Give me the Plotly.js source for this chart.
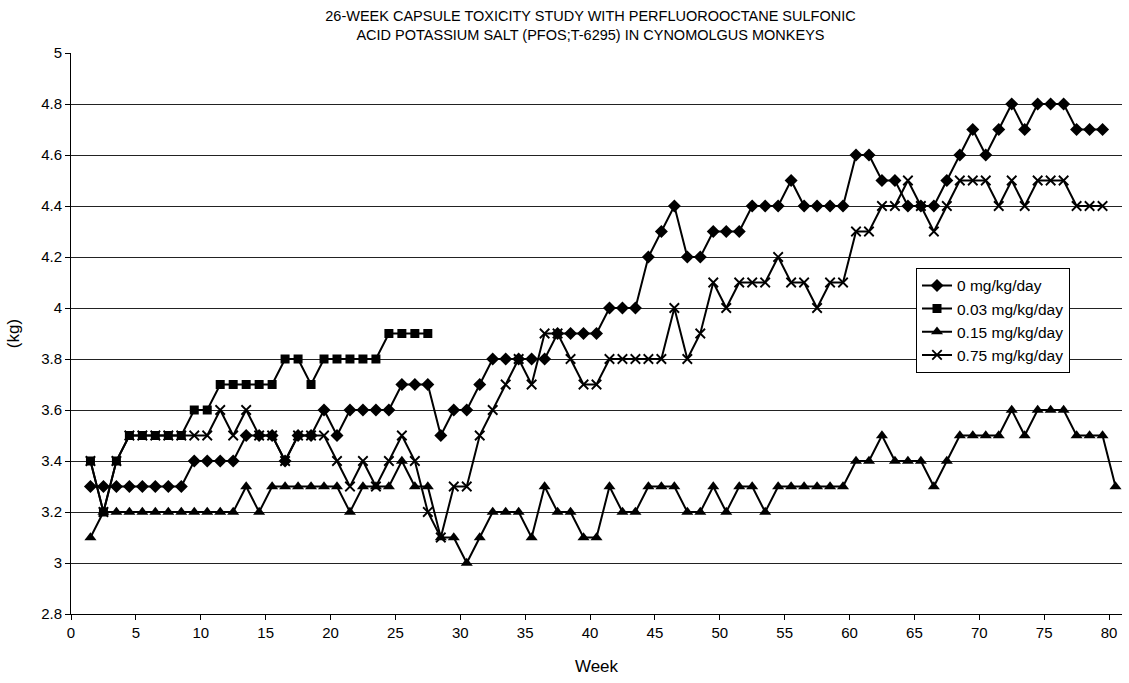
<!DOCTYPE html>
<html>
<head>
<meta charset="utf-8">
<script src="https://cdn.plot.ly/plotly-3.0.1.min.js"></script>
<style>
  html, body { margin: 0; padding: 0; background: #ffffff; }
  #chart { width: 1129px; height: 683px; }
</style>
</head>
<body>
<div id="chart"></div>
<script>
// ---- data ----
const weeks = [1,2,3,4,5,6,7,8,9,10,11,12,13,14,15,16,17,18,19,20,
  21,22,23,24,25,26,27,28,29,30,31,32,33,34,35,36,37,38,39,40,
  41,42,43,44,45,46,47,48,49,50,51,52,53,54,55,56,57,58,59,60,
  61,62,63,64,65,66,67,68,69,70,71,72,73,74,75,76,77,78,79,80];

const seriesNames = ['0 mg/kg/day', '0.03 mg/kg/day', '0.15 mg/kg/day', '0.75 mg/kg/day'];

const dose0 = [3.3,3.3,3.3,3.3,3.3,3.3,3.3,3.3,
  3.4,3.4,3.4,3.4,
  3.5,3.5,3.5,3.4,3.5,3.5,3.6,3.5,
  3.6,3.6,3.6,3.6,3.7,3.7,3.7,3.5,3.6,3.6,3.7,
  3.8,3.8,3.8,3.8,3.8,3.9,3.9,3.9,3.9,
  4.0,4.0,4.0,4.2,4.3,4.4,4.2,4.2,4.3,4.3,4.3,
  4.4,4.4,4.4,4.5,4.4,4.4,4.4,4.4,4.6,4.6,
  4.5,4.5,4.4,4.4,4.4,4.5,4.6,4.7,4.6,4.7,4.8,4.7,
  4.8,4.8,4.8,4.7,4.7,4.7];

const dose003 = [3.4,3.2,3.4,3.5,3.5,3.5,3.5,3.5,3.6,3.6,
  3.7,3.7,3.7,3.7,3.7,3.8,3.8,3.7,3.8,3.8,3.8,3.8,3.8,
  3.9,3.9,3.9,3.9];

const dose015 = [3.1,3.2,3.2,3.2,3.2,3.2,3.2,3.2,3.2,3.2,3.2,3.2,
  3.3,3.2,3.3,3.3,3.3,3.3,3.3,3.3,3.2,3.3,3.3,3.3,3.4,3.3,3.3,
  3.1,3.1,3.0,3.1,3.2,3.2,3.2,3.1,3.3,3.2,3.2,3.1,3.1,
  3.3,3.2,3.2,3.3,3.3,3.3,3.2,3.2,3.3,3.2,3.3,3.3,3.2,
  3.3,3.3,3.3,3.3,3.3,3.3,3.4,3.4,3.5,3.4,3.4,3.4,3.3,3.4,
  3.5,3.5,3.5,3.5,3.6,3.5,3.6,3.6,3.6,3.5,3.5,3.5,3.3];

const dose075 = [3.4,3.2,3.4,3.5,3.5,3.5,3.5,3.5,
  3.5,3.5,3.6,3.5,3.6,3.5,3.5,3.4,3.5,3.5,3.5,
  3.4,3.3,3.4,3.3,3.4,3.5,3.4,3.2,3.1,3.3,3.3,
  3.5,3.6,3.7,3.8,3.7,3.9,3.9,3.8,3.7,3.7,
  3.8,3.8,3.8,3.8,3.8,4.0,3.8,3.9,4.1,4.0,
  4.1,4.1,4.1,4.2,4.1,4.1,4.0,4.1,4.1,
  4.3,4.3,4.4,4.4,4.5,4.4,4.3,4.4,4.5,4.5,4.5,
  4.4,4.5,4.4,4.5,4.5,4.5,4.4,4.4,4.4];

const xTickLabels = ['0','5','10','15','20','25','30','35','40','45','50','55','60','65','70','75','80'];
const titleLines = ['26-WEEK CAPSULE TOXICITY STUDY WITH PERFLUOROOCTANE SULFONIC',
                    'ACID POTASSIUM SALT (PFOS;T-6295) IN CYNOMOLGUS MONKEYS'];

// ---- drawing ----
const FONT = 'Liberation Sans, Arial, Helvetica, sans-serif';
const symbols = ['diamond', 'square', 'triangle-up', 'x-thin-open'];
const sizes = [10, 9, 10.5, 9.5];
const allValues = [dose0, dose003, dose015, dose075];

const traces = allValues.map((vals, i) => ({
  type: 'scatter',
  mode: 'lines+markers',
  name: seriesNames[i],
  x: weeks.slice(0, vals.length),
  y: vals,
  line: { color: '#000000', width: 2 },
  marker: {
    symbol: symbols[i],
    size: sizes[i],
    color: '#000000',
    line: { color: '#000000', width: i === 3 ? 1.8 : 0 }
  }
}));

// Points sit in the middle of each week's category, half a step right of the tick
const tickVals = xTickLabels.map(t => Number(t) - 0.5);

const layout = {
  width: 1129,
  height: 683,
  margin: { l: 71, r: 7, t: 53, b: 69 },
  paper_bgcolor: '#ffffff',
  plot_bgcolor: '#ffffff',
  font: { family: FONT, color: '#000000' },
  title: {
    text: titleLines.join('<br>'),
    font: { family: FONT, size: 14.5, color: '#000000' },
    x: 0.523, xref: 'container', xanchor: 'center',
    y: 0.969, yref: 'container', yanchor: 'middle'
  },
  showlegend: true,
  legend: {
    x: 0.804, y: 0.617, xanchor: 'left', yanchor: 'top',
    bgcolor: '#ffffff', bordercolor: '#000000', borderwidth: 1,
    font: { family: FONT, size: 15.5, color: '#000000' },
    tracegroupgap: 0
  },
  xaxis: {
    range: [-0.5, 80.5],
    tickmode: 'array',
    tickvals: tickVals,
    ticktext: xTickLabels,
    ticks: 'outside', ticklen: 5, tickcolor: '#000000', tickwidth: 1,
    showline: true, linecolor: '#000000', linewidth: 1,
    showgrid: false, zeroline: false,
    tickfont: { family: FONT, size: 15, color: '#000000' },
    title: { text: 'Week', font: { family: FONT, size: 17, color: '#000000' }, standoff: 20 }
  },
  yaxis: {
    range: [2.8, 5],
    tick0: 2.8, dtick: 0.2,
    ticks: 'outside', ticklen: 5, tickcolor: '#000000', tickwidth: 1,
    showline: true, linecolor: '#000000', linewidth: 1,
    showgrid: true, gridcolor: '#222222', gridwidth: 1,
    zeroline: false,
    tickfont: { family: FONT, size: 15, color: '#000000' },
    title: { text: '(kg)', font: { family: FONT, size: 17, color: '#000000' }, standoff: 17 }
  }
};

Plotly.newPlot('chart', traces, layout, { displayModeBar: false, staticPlot: true });
</script>
</body>
</html>
